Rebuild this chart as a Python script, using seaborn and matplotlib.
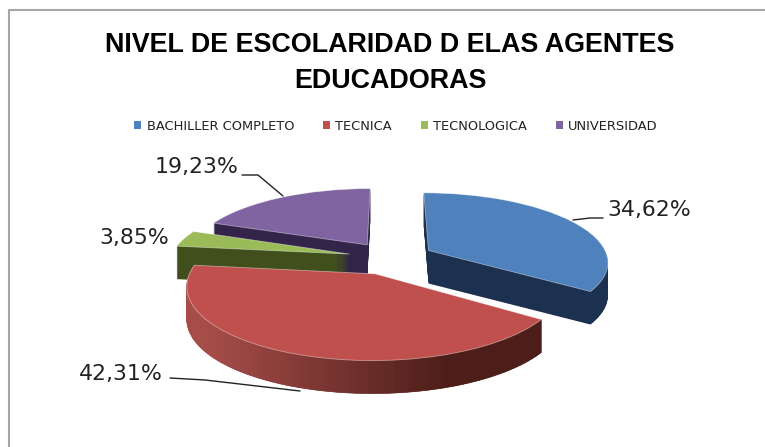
import numpy as np
import matplotlib
matplotlib.use("Agg")
import matplotlib.pyplot as plt
from matplotlib.patches import Patch, Polygon
from matplotlib.transforms import Transform, Affine2D
from matplotlib.colors import to_rgb
import seaborn as sns

categories = ["BACHILLER COMPLETO", "TECNICA", "TECNOLOGICA", "UNIVERSIDAD"]
values = [34.62, 42.31, 3.85, 19.23]
value_labels = ["34,62%", "42,31%", "3,85%", "19,23%"]
title = "NIVEL DE ESCOLARIDAD D ELAS AGENTES\nEDUCADORAS"
top_colors = ["#4f81bd", "#c0504d", "#9bbb59", "#8064a2"]
side_colors = ["#1c3050", "#7d2f2c", "#414f1c", "#33254a"]

sns.set_theme(style="white")
W, H = 765, 447
R, CX, CY = 179.5, 391.0, 258.0
K, A, DEPTH, EXPLODE = 0.15, 0.381, 33, 0.24
ORDER = [3, 2, 0, 1]


class Perspective(Transform):
    input_dims = output_dims = 2
    is_separable = False
    has_inverse = False

    def transform_non_affine(self, xy):
        xy = np.asarray(xy, float)
        s = 1 + K * xy[:, 1]
        return np.column_stack([xy[:, 0] / s, A * xy[:, 1] / s])


fig = plt.figure(figsize=(W / 100, H / 100), dpi=100, facecolor="white")
ax = fig.add_axes([0, 0, 1, 1])
persp = Perspective()


def draw_pie(colors, depth, base_z, edge=None):
    wedges, _ = ax.pie(values, colors=colors, startangle=90, counterclock=False,
                       explode=[EXPLODE] * len(values), radius=1,
                       wedgeprops=dict(edgecolor=edge or "none", linewidth=0.6 if edge else 0))
    tr = persp + Affine2D().translate(0, -depth / R) + ax.transData
    for i, w in enumerate(wedges):
        w.set_transform(tr)
        w.set_clip_on(False)
        w.set_zorder(ORDER.index(i) * 10 + base_z)
    return wedges


for d in range(DEPTH, 0, -1):
    draw_pie(side_colors, d, 1)
draw_pie(top_colors, 0, 5, edge=(1, 1, 1, 0.45))

# degraded rim of the large slice
shares = np.array(values) / sum(values) * 360
end = 90 - np.cumsum(shares)
start = end + shares
i = 1
mid = np.deg2rad((start[i] + end[i]) / 2)
off = EXPLODE * np.array([np.cos(mid), np.sin(mid)])
thetas = np.deg2rad(np.linspace(start[i], end[i], 90))
pts = np.column_stack([np.cos(thetas) + off[0], np.sin(thetas) + off[1]])
scr = persp.transform_non_affine(pts)
xmin, xmax = scr[:, 0].min(), scr[:, 0].max()
light, dark = np.array(to_rgb("#a84e4a")), np.array(to_rgb("#4c1d19"))
for a, b in zip(scr[:-1], scr[1:]):
    t = np.clip(((a[0] - xmin) / (xmax - xmin) - 0.05) / 0.7, 0, 1)
    c = light + (dark - light) * t
    quad = [a, b, b - [0, DEPTH / R], a - [0, DEPTH / R]]
    ax.add_patch(Polygon(quad, closed=True, facecolor=c, edgecolor=c, linewidth=0.4,
                         zorder=ORDER.index(i) * 10 + 3, clip_on=False))

ax.set_aspect("auto")
ax.set_xlim(-CX / R, (W - CX) / R)
ax.set_ylim(-(H - CY) / R, CY / R)
ax.set_axis_off()


def px(x, y):
    return (x - CX) / R, (CY - y) / R


def leader(points):
    xy = np.array([px(*p) for p in points])
    ax.plot(xy[:, 0], xy[:, 1], color="#222222", lw=1.0, zorder=60, clip_on=False)


label_pos = [(649, 210), (121, 374), (134, 238), (196, 167)]
for text, (x, y) in zip(value_labels, label_pos):
    ax.text(*px(x, y), text, ha="center", va="center", fontsize=15.8,
            color="#222222", family="DejaVu Sans", zorder=70)
leader([(573, 220), (590, 218), (603, 218)])
leader([(242, 175), (258, 175), (283, 196)])
leader([(170, 378), (205, 380), (300, 391)])

ax.text(*px(390, 63), title, ha="center", va="center", fontsize=19.4, fontweight="bold",
        family="Liberation Sans", color="black", linespacing=1.45, zorder=70)

handles = [Patch(facecolor=c, edgecolor="none") for c in top_colors]
leg = ax.legend(handles, categories, ncol=4, frameon=False, loc="center",
                bbox_to_anchor=(396 / W, 1 - 126 / H), bbox_transform=fig.transFigure,
                prop=dict(family="DejaVu Sans", size=9.4), handlelength=0.55,
                handleheight=0.55, handletextpad=0.4, columnspacing=2.2, labelcolor="#222222")

# chart frame
fig.add_artist(plt.Line2D([9 / W, 9 / W], [0, 1 - 10 / H], color="#a6a6a6", lw=1.5))
fig.add_artist(plt.Line2D([9 / W, 1], [1 - 10 / H, 1 - 10 / H], color="#a6a6a6", lw=1.5))

fig.savefig("out.png", dpi=100, facecolor="white")
